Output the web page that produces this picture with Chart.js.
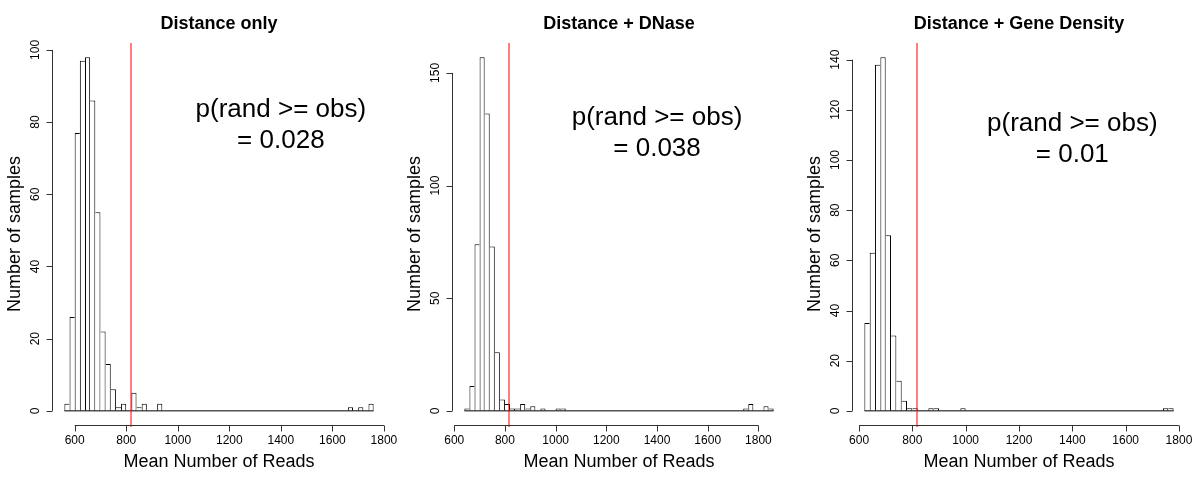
<!DOCTYPE html>
<html>
<head>
<meta charset="utf-8">
<title>Mean Number of Reads</title>
<script src="https://cdn.jsdelivr.net/npm/chart.js@4.4.1/dist/chart.umd.min.js"></script>
<style>
    body { margin: 0; background: #fff; }
    .row { display: flex; width: 1200px; height: 480px; }
    canvas { display: block; }
</style>
</head>
<body>
<div class="row">
    <canvas id="c1" width="400" height="480"></canvas>
    <canvas id="c2" width="400" height="480"></canvas>
    <canvas id="c3" width="400" height="480"></canvas>
</div>
<script>
    // histogram bins are 20 reads wide; each panel has its own first bin
    var binWidth = 20;
    var titles = ["Distance only", "Distance + DNase", "Distance + Gene Density"];
    var binStarts = [560, 640, 620];

    var countsDistance = [2, 26, 77, 97, 98, 86, 55, 22, 13, 6,
        1, 2, 0, 5, 1, 2, 0, 0, 2, 0,
        0, 0, 0, 0, 0, 0, 0, 0, 0, 0,
        0, 0, 0, 0, 0, 0, 0, 0, 0, 0,
        0, 0, 0, 0, 0, 0, 0, 0, 0, 0,
        0, 0, 0, 0, 0, 1, 0, 1, 0, 2];
    var countsDNase = [1, 11, 74, 157, 132, 73, 26, 5, 3, 1,
        1, 3, 1, 2, 0, 1, 0, 0, 1, 1,
        0, 0, 0, 0, 0, 0, 0, 0, 0, 0,
        0, 0, 0, 0, 0, 0, 0, 0, 0, 0,
        0, 0, 0, 0, 0, 0, 0, 0, 0, 0,
        0, 0, 0, 0, 0, 1, 3, 0, 0, 2, 1];
    var countsGene = [35, 63, 138, 141, 70, 30, 12, 4, 1, 1,
        0, 0, 1, 1, 0, 0, 0, 0, 1, 0,
        0, 0, 0, 0, 0, 0, 0, 0, 0, 0,
        0, 0, 0, 0, 0, 0, 0, 0, 0, 0,
        0, 0, 0, 0, 0, 0, 0, 0, 0, 0,
        0, 0, 0, 0, 0, 0, 1, 1];

    var pValues = ["0.028", "0.038", "0.01"];
    var observed = 818;
    var xTicks = [600, 800, 1000, 1200, 1400, 1600, 1800];
    var yTicksDistance = [0, 20, 40, 60, 80, 100];
    var yTicksDNase = [0, 50, 100, 150];
    var yTicksGene = [0, 20, 40, 60, 80, 100, 120, 140];
    // where the p-value text sits, in data units
    var noteX = 1400;
    var noteY = [79, 123, 108.2];

    var font = '"Liberation Sans", Arial, Helvetica, sans-serif';

    // R style axes, baseline, observed line and texts
    var rStyle = {
        id: 'rStyle',
        afterDatasetsDraw: function (chart, args, o) {
            var ctx = chart.ctx, xs = chart.scales.x, ys = chart.scales.y, a = chart.chartArea;
            var y0 = ys.getPixelForValue(0);
            ctx.save();
            ctx.lineWidth = 1;
            ctx.strokeStyle = '#000';
            ctx.beginPath();
            ctx.moveTo(xs.getPixelForValue(o.first), y0);
            ctx.lineTo(xs.getPixelForValue(o.last), y0);
            ctx.stroke();

            // observed value
            var xo = Math.round(xs.getPixelForValue(o.obs));
            ctx.strokeStyle = 'rgb(255, 0, 0)';
            ctx.lineWidth = 1;
            ctx.beginPath();
            ctx.moveTo(xo, a.top);
            ctx.lineTo(xo, a.bottom + 2);
            ctx.stroke();

            // x axis
            ctx.strokeStyle = '#333';
            ctx.fillStyle = '#000';
            var yb = Math.round(a.bottom) + 0.5;
            ctx.beginPath();
            ctx.moveTo(xs.getPixelForValue(o.xTicks[0]), yb);
            ctx.lineTo(xs.getPixelForValue(o.xTicks[o.xTicks.length - 1]), yb);
            o.xTicks.forEach(function (t) {
                var px = Math.round(xs.getPixelForValue(t)) + 0.5;
                ctx.moveTo(px, yb);
                ctx.lineTo(px, yb + 6);
            });
            ctx.stroke();
            ctx.font = '12px ' + font;
            ctx.textAlign = 'center';
            ctx.textBaseline = 'alphabetic';
            o.xTicks.forEach(function (t) {
                ctx.fillText(String(t), xs.getPixelForValue(t), yb + 18);
            });

            // y axis
            var xl = Math.round(a.left) + 0.5;
            ctx.beginPath();
            ctx.moveTo(xl, ys.getPixelForValue(o.yTicks[0]));
            ctx.lineTo(xl, ys.getPixelForValue(o.yTicks[o.yTicks.length - 1]));
            o.yTicks.forEach(function (t) {
                var py = Math.round(ys.getPixelForValue(t)) + 0.5;
                ctx.moveTo(xl, py);
                ctx.lineTo(xl - 6, py);
            });
            ctx.stroke();
            o.yTicks.forEach(function (t) {
                ctx.save();
                ctx.translate(xl - 14, ys.getPixelForValue(t));
                ctx.rotate(-Math.PI / 2);
                ctx.fillText(String(t), 0, 0);
                ctx.restore();
            });

            // titles
            var cx = (a.left + a.right) / 2;
            ctx.font = 'bold 18px ' + font;
            ctx.fillText(o.title, cx, 29);
            ctx.font = '18px ' + font;
            ctx.fillText('Mean Number of Reads', cx, a.bottom + 42);
            ctx.save();
            ctx.translate(a.left - 32, (a.top + a.bottom) / 2);
            ctx.rotate(-Math.PI / 2);
            ctx.fillText('Number of samples', 0, 0);
            ctx.restore();

            // p-value note
            var nx = xs.getPixelForValue(o.noteX), ny = ys.getPixelForValue(o.noteY);
            ctx.font = '26px ' + font;
            ctx.textBaseline = 'middle';
            ctx.fillText('p(rand >= obs)', nx, ny - 15.5);
            ctx.fillText('= ' + o.p, nx, ny + 15.5);
            ctx.restore();
        }
    };

    function edges(counts) {
        // shared edge between two bins is drawn once, by the taller bar
        return function (c) {
            var i = c.dataIndex, n = counts[i];
            var prev = i > 0 ? counts[i - 1] : 0;
            var next = i < counts.length - 1 ? counts[i + 1] : 0;
            return {left: prev < n ? 1 : 0, right: next <= n ? 1 : 0, top: 1, bottom: 0};
        };
    }

    function drawHist(id, k, counts, yTicks) {
        var start = binStarts[k];
        var end = start + binWidth * counts.length;
        var points = counts.map(function (c, i) {
            return {x: start + binWidth * i + binWidth / 2, y: c};
        });
        var top = Math.max.apply(null, counts);
        // R pads each range by 4%
        var xPad = (end - start) * 0.04, yPad = top * 0.04;
        var ctx = document.getElementById(id).getContext('2d');
        return new Chart(ctx, {
            type: 'bar',
            data: {
                datasets: [{
                    data: points,
                    backgroundColor: '#ffffff',
                    borderColor: '#000000',
                    borderWidth: edges(counts),
                    borderSkipped: false,
                    inflateAmount: 0,
                    barPercentage: 1,
                    categoryPercentage: 1
                }]
            },
            options: {
                responsive: false,
                animation: false,
                devicePixelRatio: 1,
                layout: {padding: {left: 52, right: 14, top: 43, bottom: 55}},
                scales: {
                    x: {type: 'linear', display: false, offset: false, min: start - xPad, max: end + xPad},
                    y: {display: false, min: -yPad, max: top + yPad}
                },
                plugins: {
                    legend: {display: false},
                    tooltip: {enabled: false},
                    rStyle: {
                        first: start, last: end, obs: observed, xTicks: xTicks, yTicks: yTicks,
                        title: titles[k], p: pValues[k], noteX: noteX, noteY: noteY[k]
                    }
                }
            },
            plugins: [rStyle]
        });
    }

    drawHist('c1', 0, countsDistance, yTicksDistance);
    drawHist('c2', 1, countsDNase, yTicksDNase);
    drawHist('c3', 2, countsGene, yTicksGene);
</script>
</body>
</html>
